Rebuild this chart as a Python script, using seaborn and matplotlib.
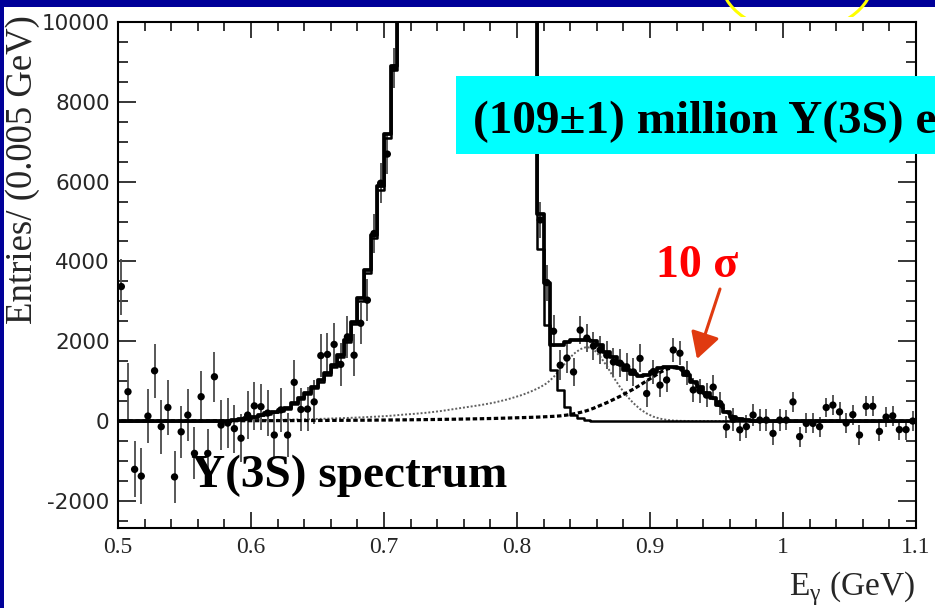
import numpy as np
import pandas as pd
import matplotlib
matplotlib.use("Agg")
import matplotlib.pyplot as plt
import seaborn as sns
from matplotlib.patches import Rectangle, Ellipse
from matplotlib.ticker import MultipleLocator

W, H, DPI = 935, 608, 100
nan = np.nan

# 0.005 GeV photon-energy bins from 0.5 to 1.1 GeV
edges = np.round(np.arange(0.5, 1.1 + 1e-9, 0.005), 4)
centers = np.round((edges[:-1] + edges[1:]) / 2, 5)

# background-subtracted entries per bin (NaN: off scale, not shown)
counts = [3370, 735, -1210, -1380, 125, 1260, -140, 340, -1400, -270,
          150, -810, 610, -810, 1110, -100, -50, -190, -430, 150,
          380, 360, 200, -350, 280, -350, 970, 290, 300, 480,
          1640, 1670, 1920, 1420, 2110, 1650, 2450, 3030, 4700, 5960,
          6690, 8850, nan, nan, nan, nan, nan, nan, nan, nan,
          nan, nan, nan, nan, nan, nan, nan, nan, nan, nan,
          nan, nan, nan, 5040, 3470, 2250, 1400, 1580, 1230, 2280,
          2080, 1880, 1780, 1650, 1480, 1450, 1360, 1230, 1570, 690,
          1240, 900, 1030, 1780, 1700, 1200, 780, 760, 650, 850,
          440, -150, 40, -220, -140, 150, 25, 25, -310, 25,
          25, 480, -390, -60, -60, -140, 340, 400, 230, -50,
          160, -350, 370, 370, -260, 100, 130, -215, -215, 0]

errors = [700, 720, 700, 700, 680, 680, 680, 680, 650, 650,
          650, 650, 650, 620, 620, 620, 620, 600, 600, 600,
          600, 580, 580, 580, 560, 560, 560, 550, 550, 550,
          540, 540, 540, 530, 530, 520, 520, 520, 500, 500,
          500, 500, nan, nan, nan, nan, nan, nan, nan, nan,
          nan, nan, nan, nan, nan, nan, nan, nan, nan, nan,
          nan, nan, nan, 450, 450, 400, 380, 370, 360, 360,
          350, 350, 350, 350, 350, 350, 350, 350, 350, 350,
          300, 300, 300, 300, 300, 300, 300, 300, 300, 300,
          280, 280, 280, 280, 280, 280, 280, 280, 280, 280,
          250, 250, 250, 250, 250, 250, 250, 250, 250, 250,
          250, 250, 250, 250, 250, 250, 250, 250, 250, 250]

# total fit
fit_total = [0, 0, 0, 0, 0, 0, 0, 0, 0, 0,
             0, 0, 0, 0, 0, 5, 10, 20, 40, 70,
             110, 150, 190, 230, 280, 330, 450, 580, 700, 850,
             1030, 1200, 1400, 1650, 2030, 2480, 3080, 3780, 4660, 5900,
             7200, 8900, 12500, 17000, 22000, 27000, 31000, 34000, 36000, 37000,
             36500, 35000, 32000, 29000, 25500, 22000, 19000, 16500, 14500, 13000,
             11800, 11000, 10600, 5200, 3460, 1900, 1900, 1990, 2030, 2040,
             2030, 2000, 1900, 1740, 1610, 1440, 1290, 1190, 1130, 1150,
             1240, 1320, 1350, 1350, 1320, 1150, 985, 860, 700, 570,
             400, 230, 110, 50, 20, 5, 0, 0, 0, 0,
             0, 0, 0, 0, 0, 0, 0, 0, 0, 0,
             0, 0, 0, 0, 0, 0, 0, 0, 0, 0]

# chi_bJ(2P) -> gamma Y(2S) peak component
chib_peak = [0, 0, 0, 0, 0, 0, 0, 0, 0, 0,
             0, 0, 0, 0, 0, 5, 10, 15, 35, 60,
             100, 140, 175, 215, 260, 310, 420, 550, 670, 820,
             990, 1160, 1360, 1600, 1980, 2420, 3020, 3700, 4580, 5800,
             7100, 8800, 12400, 16900, 21900, 26900, 30900, 33900, 35900, 36900,
             36400, 34900, 31800, 28700, 25200, 21600, 18500, 16000, 14000, 12500,
             11300, 10800, 10400, 4300, 2400, 1280, 780, 350, 150, 75,
             25, 8, 0, 0, 0, 0, 0, 0, 0, 0,
             0, 0, 0, 0, 0, 0, 0, 0, 0, 0,
             0, 0, 0, 0, 0, 0, 0, 0, 0, 0,
             0, 0, 0, 0, 0, 0, 0, 0, 0, 0,
             0, 0, 0, 0, 0, 0, 0, 0, 0, 0]

# ISR Y(1S) component
isr_1s = [5, 5, 6, 6, 7, 7, 8, 8, 9, 10,
          10, 11, 12, 13, 14, 15, 16, 17, 19, 21,
          23, 25, 27, 29, 32, 35, 38, 42, 46, 50,
          55, 60, 66, 72, 78, 85, 92, 100, 108, 117,
          127, 140, 155, 168, 180, 195, 210, 230, 250, 275,
          300, 325, 350, 375, 400, 430, 460, 500, 540, 590,
          640, 700, 770, 850, 950, 1100, 1300, 1500, 1680, 1800,
          1860, 1800, 1620, 1380, 1100, 850, 630, 450, 300, 190,
          110, 60, 30, 12, 5, 2, 0, 0, 0, 0,
          0, 0, 0, 0, 0, 0, 0, 0, 0, 0,
          0, 0, 0, 0, 0, 0, 0, 0, 0, 0,
          0, 0, 0, 0, 0, 0, 0, 0, 0, 0]

# eta_b signal component
etab_signal = [3, 3, 3, 3, 4, 4, 4, 4, 5, 5,
               5, 5, 6, 6, 6, 7, 7, 7, 8, 8,
               9, 9, 10, 10, 11, 11, 12, 13, 13, 14,
               15, 16, 17, 18, 19, 20, 21, 22, 23, 25,
               26, 28, 29, 31, 33, 35, 37, 39, 41, 44,
               46, 49, 52, 55, 58, 62, 65, 70, 75, 80,
               85, 90, 95, 102, 110, 118, 130, 150, 180, 215,
               260, 320, 390, 460, 540, 620, 710, 800, 900, 1010,
               1110, 1220, 1300, 1340, 1310, 1150, 985, 860, 700, 570,
               400, 230, 110, 50, 20, 5, 0, 0, 0, 0,
               0, 0, 0, 0, 0, 0, 0, 0, 0, 0,
               0, 0, 0, 0, 0, 0, 0, 0, 0, 0]

xticks = [0.5, 0.6, 0.7, 0.8, 0.9, 1.0, 1.1]
xtick_labels = ["0.5", "0.6", "0.7", "0.8", "0.9", "1", "1.1"]
yticks = [-2000, 0, 2000, 4000, 6000, 8000, 10000]
ytick_labels = ["-2000", "0", "2000", "4000", "6000", "8000", "10000"]

spec = pd.DataFrame({
    "E": centers, "counts": counts, "err": errors, "total": fit_total,
    "chib": chib_peak, "isr": isr_1s, "etab": etab_signal,
})

sns.set_style("ticks")
plt.rcParams["font.family"] = ["Liberation Serif", "DejaVu Serif"]
plt.rcParams["axes.unicode_minus"] = False
SERIF = ["Liberation Serif", "DejaVu Serif"]

fig = plt.figure(figsize=(W / DPI, H / DPI), dpi=DPI)
fig.patch.set_facecolor("white")


def fx(px):
    return px / W


def fy(py):
    return 1 - py / H


ax = fig.add_axes([fx(118), fy(528), (916 - 118) / W, (528 - 22) / H])
ax.set_facecolor("white")

# error bars, fit components and data points
ax.errorbar(spec["E"], spec["counts"], yerr=spec["err"], fmt="none",
            ecolor="#4a4a4a", elinewidth=1.3, capsize=0, zorder=2)
sns.lineplot(data=spec, x="E", y="isr", ax=ax, color="#606060",
             linewidth=1.4, linestyle=(0, (1.0, 1.0)), zorder=3)
sns.lineplot(data=spec, x="E", y="etab", ax=ax, color="black",
             linewidth=2.3, linestyle=(0, (1.4, 0.8)), zorder=3)
sns.histplot(data=spec, x="E", weights="chib", bins=list(edges),
             element="step", fill=False, color="black", linewidth=1.8,
             ax=ax, zorder=4)
sns.histplot(data=spec, x="E", weights="total", bins=list(edges),
             element="step", fill=False, color="black", linewidth=2.7,
             ax=ax, zorder=4)
sns.scatterplot(data=spec, x="E", y="counts", ax=ax, color="black", s=28,
                edgecolor="none", zorder=5)

ax.set_xlim(0.5, 1.1)
ax.set_ylim(-2680, 10000)
ax.set_xlabel("")
ax.set_ylabel("")
ax.set_xticks(xticks)
ax.set_xticklabels(xtick_labels, fontfamily=SERIF, fontsize=17)
ax.set_yticks(yticks)
ax.set_yticklabels(ytick_labels, fontfamily="DejaVu Sans", fontsize=15.5)
ax.xaxis.set_minor_locator(MultipleLocator(0.02))
ax.yaxis.set_minor_locator(MultipleLocator(500))
ax.tick_params(which="both", direction="in", top=True, right=True,
               color="black", width=1.1)
ax.tick_params(axis="x", which="major", length=11.5, pad=6.5)
ax.tick_params(axis="x", which="minor", length=6.5)
ax.tick_params(axis="y", which="major", length=13, pad=6)
ax.tick_params(axis="y", which="minor", length=7)
for sp in ax.spines.values():
    sp.set_visible(True)
    sp.set_linewidth(1.5)
    sp.set_color("black")

# axis titles
fig.text(fx(23), fy(15), "Entries/ (0.005 GeV)", rotation=90, ha="center",
         va="top", fontsize=26.5, family=SERIF)
fig.text(fx(915), fy(595), "E$_{\\mathregular{γ}}$ (GeV)", ha="right",
         va="baseline", fontsize=24, family=SERIF)

# slide frame
fig.add_artist(Rectangle((0, fy(7)), 1, 7 / H, transform=fig.transFigure,
                         facecolor="#000099", edgecolor="none", zorder=10))
fig.add_artist(Rectangle((0, 0), 4 / W, 1, transform=fig.transFigure,
                         facecolor="#000099", edgecolor="none", zorder=10))
ring = Ellipse((fx(797), fy(-20)), 2 * 76 / W, 2 * 52 / H,
               transform=fig.transFigure, fill=False, edgecolor="#ffff00",
               linewidth=2.2, zorder=11)
fig.add_artist(ring)
ring.set_clip_path(Rectangle((0, fy(17)), 1, 17 / H, transform=fig.transFigure))

# annotations
fig.add_artist(Rectangle((fx(456), fy(154)), (W - 456 + 40) / W, 78 / H,
                         transform=fig.transFigure, facecolor="#00ffff",
                         edgecolor="none", zorder=6))
fig.text(fx(473), fy(133), "(109±1) million Υ(3S) e", ha="left",
         va="baseline", fontsize=34, fontweight="bold", family=SERIF,
         color="black", zorder=7)
fig.text(fx(656), fy(277), "10 σ", ha="left", va="baseline", fontsize=33,
         fontweight="bold", family=SERIF, color="#ff0000", zorder=7)
fig.text(fx(191), fy(487), "Υ(3S) spectrum", ha="left", va="baseline",
         fontsize=34, fontweight="bold", family=SERIF, color="black",
         zorder=7)
ax.annotate("", xy=(697, H - 359), xycoords="figure pixels",
            xytext=(720, H - 289), textcoords="figure pixels",
            arrowprops=dict(arrowstyle="-|>,head_length=0.8,head_width=0.45",
                            color="#e03a10", lw=2.2, mutation_scale=20,
                            shrinkA=0, shrinkB=0), zorder=7)

fig.savefig("out.png", dpi=DPI, facecolor="white")
